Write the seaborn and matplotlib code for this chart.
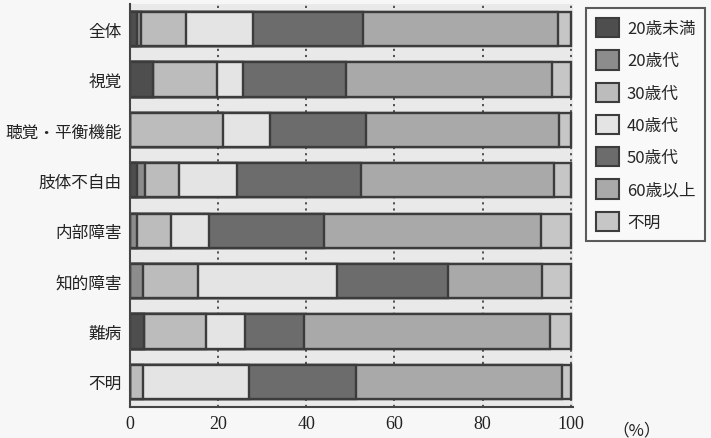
import matplotlib
matplotlib.use("Agg")
import matplotlib.pyplot as plt
import seaborn as sns
import numpy as np
import pandas as pd
from matplotlib.patches import Patch

sns.set_theme(style="white")
plt.rcParams['font.family'] = ['Noto Sans CJK JP', 'DejaVu Sans']

categories = ["全体", "視覚", "聴覚・平衡機能", "肢体不自由", "内部障害", "知的障害", "難病", "不明"]
series = ["20歳未満", "20歳代", "30歳代", "40歳代", "50歳代", "60歳以上", "不明"]

u20   = [1.5, 5.3, 0.0, 1.7, 0.0, 0.0, 3.2, 0.0]
s20   = [1.1, 0.0, 0.0, 1.8, 1.5, 3.0, 0.0, 0.0]
s30   = [10.0, 14.5, 21.1, 7.6, 7.7, 12.4, 14.1, 3.0]
s40   = [15.2, 5.9, 10.7, 13.1, 8.8, 31.6, 8.9, 23.9]
s50   = [25.1, 23.2, 21.8, 28.1, 26.0, 25.2, 13.3, 24.4]
s60   = [44.3, 46.8, 43.8, 43.8, 49.2, 21.3, 55.8, 46.7]
unk   = [2.8, 4.3, 2.6, 3.9, 6.8, 6.5, 4.7, 2.0]

xticks = [0, 20, 40, 60, 80, 100]

colors = ["#4e4e4e", "#8c8c8c", "#bcbcbc", "#e4e4e4", "#6c6c6c", "#a9a9a9", "#c6c6c6"]
edge = "#3c3c3c"

vals = np.array([u20, s20, s30, s40, s50, s60, unk])
cum = np.cumsum(vals, axis=0)

fig = plt.figure(figsize=(7.11, 4.39), dpi=100, facecolor="#f7f7f7")
ax = fig.add_axes([130/711, 1-408/439, 443/711, 403/439])
ax.set_facecolor("#e9e9e9")

for x in xticks[1:]:
    ax.axvline(x, color="#444444", linestyle=(0, (1.2, 2.2)), linewidth=1.3, zorder=0)

for k in range(len(series) - 1, -1, -1):
    df = pd.DataFrame({"cat": categories, "val": cum[k]})
    sns.barplot(data=df, x="val", y="cat", orient="h", color=colors[k],
                edgecolor=edge, linewidth=1.7, width=0.68, saturation=1,
                ax=ax, zorder=2)

ax.set_xlim(0, 100.5)
ax.set_ylim(7.5, -0.5)
ax.set_xlabel("")
ax.set_ylabel("")
ax.set_xticks(xticks)
ax.set_xticklabels([str(v) for v in xticks], fontfamily="Liberation Serif", fontsize=13)
ax.tick_params(axis="x", length=0, pad=6, colors="#222222")
ax.set_yticks(range(len(categories)))
ax.set_yticklabels(categories, fontsize=12)
ax.tick_params(axis="y", which="major", length=0, pad=6, colors="#222222")
ax.set_yticks(np.arange(0.5, 8, 1), minor=True)
ax.tick_params(axis="y", which="minor", length=6, width=1.2, color="#444444", direction="out")

for s in ["top", "right"]:
    ax.spines[s].set_visible(False)
ax.spines["left"].set_color("#444444")
ax.spines["left"].set_linewidth(1.5)
ax.spines["bottom"].set_color("#444444")
ax.spines["bottom"].set_linewidth(1.5)

handles = [Patch(facecolor=colors[i], edgecolor=edge, linewidth=1.5) for i in range(len(series))]
leg = fig.legend(handles, series, loc="upper left", bbox_to_anchor=(586/711, 1-9/439),
                 frameon=True, fancybox=False, fontsize=12, handlelength=1.4, handleheight=1.4,
                 labelspacing=0.78, handletextpad=0.45, borderpad=0.6, borderaxespad=0)
leg.get_frame().set_edgecolor("#333333")
leg.get_frame().set_linewidth(1.5)
leg.get_frame().set_facecolor("#fafafa")

fig.text(612/711, 1-431/439, "（%）", fontsize=12, va="center", ha="left", color="#222222")

fig.savefig("out.png", dpi=100, facecolor=fig.get_facecolor())
